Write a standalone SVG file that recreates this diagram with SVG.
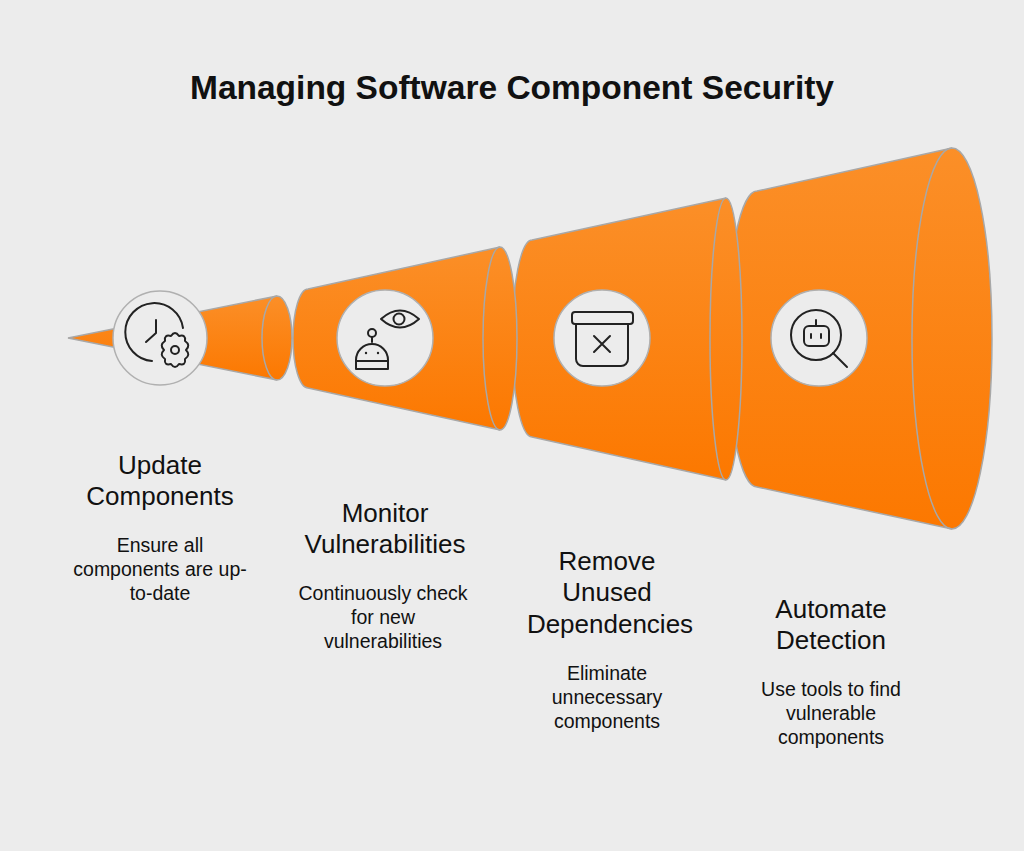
<svg xmlns="http://www.w3.org/2000/svg" width="1024" height="851" viewBox="0 0 1024 851">
<style>
.seg{fill:url(#g);stroke:#a8a8a8;stroke-width:1.5}
.ln{fill:none;stroke:#a8a8a8;stroke-width:1.5}
.ic{fill:#ececec;stroke:#b0b0b0;stroke-width:1.5}
.i{fill:none;stroke:#222;stroke-width:2;stroke-linecap:round;stroke-linejoin:round}
.t{font-family:"Liberation Sans",Arial,sans-serif;font-size:26px;fill:#111;text-anchor:middle}
.d{font-family:"Liberation Sans",Arial,sans-serif;font-size:19.5px;fill:#111;text-anchor:middle}
</style>
<defs>
<linearGradient id="g" x1="0" y1="0" x2="0" y2="1" gradientUnits="objectBoundingBox"><stop offset="0" stop-color="#fb8f28"/><stop offset="1" stop-color="#fc7800"/></linearGradient>
</defs>
<rect width="1024" height="851" fill="#ececec"/>
<text x="512" y="99" style="font-family:'Liberation Sans',Arial,sans-serif;font-size:33.5px;font-weight:bold;fill:#111;text-anchor:middle">Managing Software Component Security</text>
<g id="seg4"><path class="seg" d="M757,191 L952,148 A40,190.5 0 0 1 952,529 L757,487 A30,148 0 0 1 757,191 Z"/><path class="ln" d="M952,148 A40,190.5 0 0 0 952,529"/></g>
<g id="seg3"><path class="seg" d="M532,240 L726,198 A16,141 0 0 1 726,480 L532,437 A20,98.5 0 0 1 532,240 Z"/><path class="ln" d="M726,198 A16,141 0 0 0 726,480"/></g>
<g id="seg2"><path class="seg" d="M308,289 L500,247 A17,91.5 0 0 1 500,430 L308,388 A15,49.5 0 0 1 308,289 Z"/><path class="ln" d="M500,247 A17,91.5 0 0 0 500,430"/></g>
<g id="seg1"><path class="seg" d="M68,338 L277,296 A15,42 0 0 1 277,380 Z"/><path class="ln" d="M277,296 A15,42 0 0 0 277,380"/></g>
<g id="node1"><circle class="ic" cx="160" cy="338" r="47"/>
<path class="i" d="M183,328 A29,29 0 1 0 152,361"/><path class="i" d="M156,320 L156,333 L146,342"/>
<path class="i" d="M171,336 Q175,330 179,336 Q186,334 185,341 Q191,345 186,350 Q191,355 185,359 Q186,366 179,364 Q175,370 171,364 Q164,366 165,359 Q159,355 164,350 Q159,345 165,341 Q164,334 171,336 Z"/><circle class="i" cx="175" cy="350" r="4"/>
<text class="t" x="160" y="474">Update</text><text class="t" x="160" y="505">Components</text>
<text class="d" x="160" y="552">Ensure all</text><text class="d" x="160" y="576">components are up-</text><text class="d" x="160" y="600">to-date</text></g>
<g id="node2"><circle class="ic" cx="385" cy="338" r="48"/>
<path class="i" d="M381,319 Q400,302 419,319 Q400,336 381,319 Z"/><circle class="i" cx="399" cy="319" r="5.5"/>
<circle class="i" cx="372" cy="333" r="4"/><path class="i" d="M372,337 L372,342"/><path class="i" d="M356,369 L356,360 A16,16 0 0 1 388,360 L388,369 Z M356,361 L388,361"/>
<circle cx="366" cy="353" r="1.2" fill="#222"/><circle cx="378" cy="353" r="1.2" fill="#222"/>
<text class="t" x="385" y="522">Monitor</text><text class="t" x="385" y="553">Vulnerabilities</text>
<text class="d" x="383" y="600">Continuously check</text><text class="d" x="383" y="624">for new</text><text class="d" x="383" y="648">vulnerabilities</text></g>
<g id="node3"><circle class="ic" cx="602" cy="338" r="48"/>
<rect class="i" x="572" y="312" width="61" height="12" rx="3"/><path class="i" d="M576,324 L576,359 A7,7 0 0 0 583,366 L621,366 A7,7 0 0 0 628,359 L628,324"/><path class="i" d="M594,336 L610,352 M610,336 L594,352"/>
<text class="t" x="607" y="570">Remove</text><text class="t" x="607" y="601">Unused</text><text class="t" x="610" y="633">Dependencies</text>
<text class="d" x="607" y="680">Eliminate</text><text class="d" x="607" y="704">unnecessary</text><text class="d" x="607" y="728">components</text></g>
<g id="node4"><circle class="ic" cx="819" cy="338" r="48"/>
<circle class="i" cx="816" cy="335" r="25"/><path class="i" d="M833,353 L847,367"/><rect class="i" x="804" y="326" width="25" height="20" rx="5"/><path class="i" d="M816,320 L816,326 M811,334 L811,338 M821,334 L821,338"/>
<text class="t" x="831" y="618">Automate</text><text class="t" x="831" y="649">Detection</text>
<text class="d" x="831" y="696">Use tools to find</text><text class="d" x="831" y="720">vulnerable</text><text class="d" x="831" y="744">components</text></g>
<g id="connectors"/>
</svg>
